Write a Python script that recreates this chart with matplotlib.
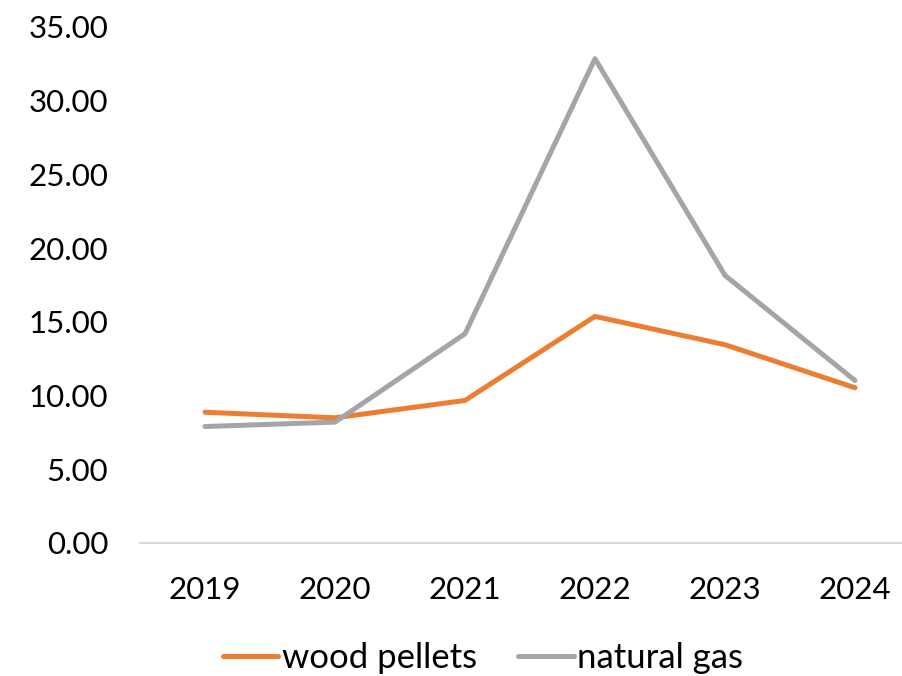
import matplotlib
matplotlib.use("Agg")
import matplotlib.pyplot as plt
from matplotlib.ticker import FormatStrFormatter

years = ["2019", "2020", "2021", "2022", "2023", "2024"]
wood_pellets = [8.87, 8.49, 9.67, 15.37, 13.45, 10.53]
natural_gas = [7.90, 8.20, 14.19, 32.85, 18.15, 11.02]

plt.rcParams["font.family"] = ["Lato", "DejaVu Sans"]

W, H = 902, 676
fig = plt.figure(figsize=(W / 100, H / 100), dpi=100)
ax = fig.add_axes([140 / W, (H - 543) / H, 780 / W, 516 / H])

x = range(len(years))
ax.plot(x, wood_pellets, color="#ED7D31", lw=3.6, solid_capstyle="round",
        solid_joinstyle="round", label="wood pellets")
ax.plot(x, natural_gas, color="#A5A5A5", lw=3.6, solid_capstyle="round",
        solid_joinstyle="round", label="natural gas")

ax.set_xlim(-0.5, 5.5)
ax.set_ylim(0, 35)
ax.set_yticks([0, 5, 10, 15, 20, 25, 30, 35])
ax.yaxis.set_major_formatter(FormatStrFormatter("%.2f"))
ax.set_xticks(list(x))
ax.set_xticklabels(years)

for s in ["top", "right", "left"]:
    ax.spines[s].set_visible(False)
ax.spines["bottom"].set_color("#D9D9D9")
ax.spines["bottom"].set_linewidth(1.5)
ax.tick_params(axis="both", length=0, labelsize=22.5, colors="black")
ax.tick_params(axis="y", pad=23)
ax.tick_params(axis="x", pad=24)

fig.legend(loc="center", bbox_to_anchor=(483 / W, 1 - 658 / H), ncol=2,
           frameon=False, fontsize=25, handlelength=1.6, handletextpad=0.1,
           columnspacing=1.2)

fig.savefig("out.png", dpi=100)
